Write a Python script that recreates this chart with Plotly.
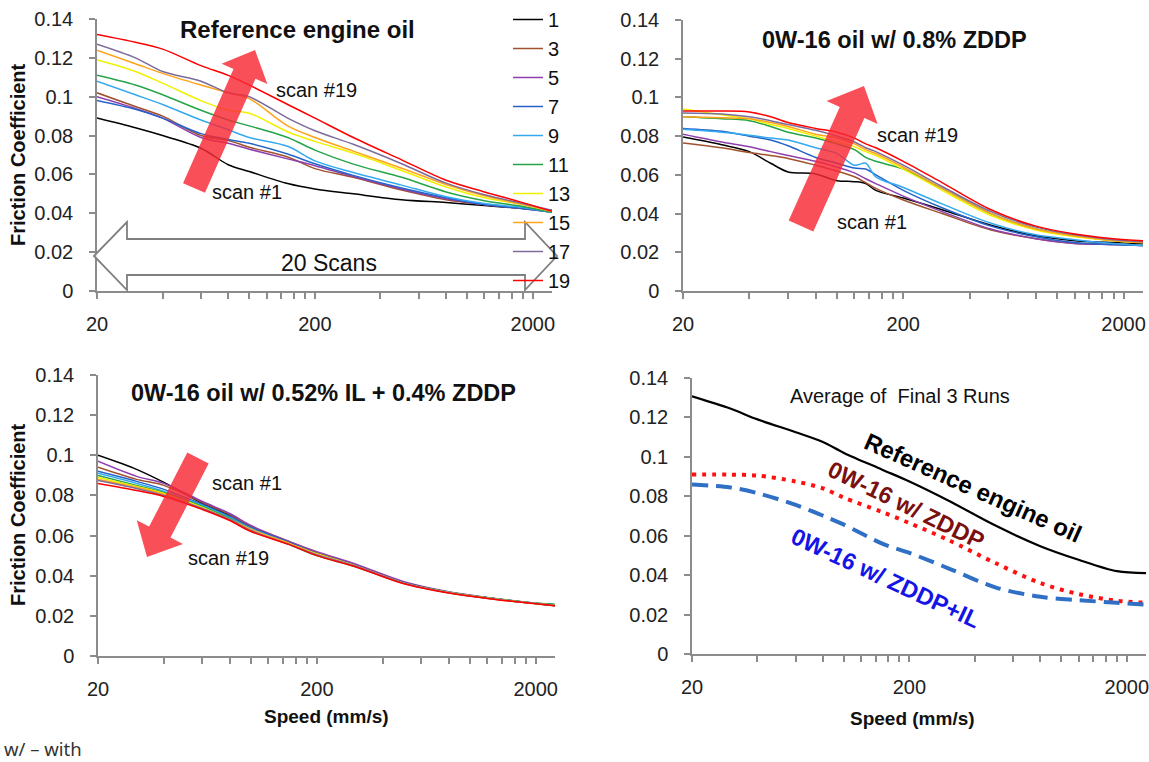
import math
import plotly.graph_objects as go

W, H = 1149, 762

# ---------------- data ----------------
scan_names = ["1", "3", "5", "7", "9", "11", "13", "15", "17", "19"]
scan_colors = ["#000000", "#a0522d", "#8e3fae", "#2563c9", "#35a9ef",
               "#25a449", "#f0f000", "#ffa31a", "#7d6b9b", "#ff0000"]

# Panel 1: Reference engine oil
speed_ref = [20, 30, 40, 60, 80, 100, 150, 200, 300, 500, 800, 1200, 1800, 2450]
ref_scan1 = [0.089, 0.084, 0.080, 0.0735, 0.065, 0.0615, 0.0553, 0.0525, 0.050, 0.047, 0.0455, 0.044, 0.0425, 0.0415]
ref_scan3 = [0.102, 0.095, 0.090, 0.080, 0.0775, 0.074, 0.069, 0.063, 0.0585, 0.052, 0.047, 0.0445, 0.0425, 0.041]
ref_scan5 = [0.100, 0.094, 0.089, 0.079, 0.076, 0.073, 0.068, 0.0645, 0.059, 0.0525, 0.0475, 0.0445, 0.0425, 0.0405]
ref_scan7 = [0.098, 0.0935, 0.089, 0.081, 0.078, 0.076, 0.0705, 0.0655, 0.0595, 0.053, 0.048, 0.0445, 0.0425, 0.0405]
ref_scan9 = [0.108, 0.101, 0.096, 0.088, 0.083, 0.079, 0.0745, 0.067, 0.061, 0.0545, 0.0485, 0.045, 0.043, 0.0405]
ref_scan11 = [0.111, 0.106, 0.101, 0.093, 0.088, 0.085, 0.079, 0.0725, 0.0653, 0.0585, 0.051, 0.0465, 0.0435, 0.0405]
ref_scan13 = [0.119, 0.113, 0.107, 0.098, 0.093, 0.0915, 0.082, 0.077, 0.071, 0.062, 0.0535, 0.048, 0.0445, 0.041]
ref_scan15 = [0.124, 0.117, 0.112, 0.106, 0.102, 0.099, 0.085, 0.079, 0.072, 0.0632, 0.0548, 0.049, 0.0445, 0.041]
ref_scan17 = [0.127, 0.120, 0.113, 0.108, 0.102, 0.100, 0.089, 0.0825, 0.0755, 0.0655, 0.0555, 0.0495, 0.045, 0.0415]
ref_scan19 = [0.132, 0.128, 0.1245, 0.116, 0.111, 0.106, 0.096, 0.089, 0.079, 0.0675, 0.057, 0.051, 0.0455, 0.041]

# Panel 2: 0W-16 oil w/ 0.8% ZDDP
speed_zddp = [20, 30, 40, 50, 60, 80, 100, 120, 135, 150, 200, 300, 500, 800, 1200, 1800, 2450]
zddp_scan1 = [0.0795, 0.0755, 0.072, 0.066, 0.0615, 0.0605, 0.057, 0.0565, 0.0555, 0.052, 0.048, 0.042, 0.034, 0.0285, 0.026, 0.025, 0.0245]
zddp_scan3 = [0.0765, 0.074, 0.0715, 0.070, 0.0685, 0.065, 0.062, 0.059, 0.056, 0.053, 0.047, 0.040, 0.0315, 0.027, 0.0245, 0.024, 0.0235]
zddp_scan5 = [0.081, 0.077, 0.0745, 0.072, 0.070, 0.067, 0.064, 0.061, 0.058, 0.0555, 0.049, 0.041, 0.032, 0.027, 0.0245, 0.024, 0.0235]
zddp_scan7 = [0.084, 0.0825, 0.080, 0.078, 0.075, 0.069, 0.066, 0.0635, 0.063, 0.060, 0.052, 0.043, 0.0335, 0.028, 0.025, 0.024, 0.0235]
zddp_scan9 = [0.0835, 0.082, 0.0805, 0.079, 0.078, 0.074, 0.071, 0.065, 0.066, 0.059, 0.0535, 0.045, 0.035, 0.029, 0.0265, 0.0245, 0.0235]
zddp_scan11 = [0.090, 0.089, 0.088, 0.085, 0.082, 0.079, 0.076, 0.073, 0.069, 0.067, 0.063, 0.053, 0.040, 0.032, 0.0285, 0.026, 0.025]
zddp_scan13 = [0.094, 0.091, 0.089, 0.086, 0.084, 0.080, 0.077, 0.0745, 0.072, 0.070, 0.063, 0.052, 0.039, 0.0315, 0.028, 0.026, 0.025]
zddp_scan15 = [0.090, 0.0895, 0.089, 0.087, 0.085, 0.081, 0.079, 0.076, 0.073, 0.071, 0.064, 0.053, 0.040, 0.032, 0.0285, 0.026, 0.025]
zddp_scan17 = [0.092, 0.0915, 0.090, 0.088, 0.086, 0.083, 0.080, 0.077, 0.074, 0.072, 0.065, 0.054, 0.041, 0.033, 0.029, 0.0265, 0.0255]
zddp_scan19 = [0.093, 0.093, 0.0925, 0.090, 0.087, 0.084, 0.082, 0.079, 0.076, 0.074, 0.067, 0.056, 0.042, 0.0335, 0.0295, 0.027, 0.026]

# Panel 3: 0W-16 oil w/ 0.52% IL + 0.4% ZDDP
speed_il = [20, 30, 40, 60, 80, 100, 150, 200, 300, 500, 800, 1200, 1800, 2450]
il_scan1 = [0.100, 0.093, 0.0865, 0.076, 0.070, 0.064, 0.0565, 0.051, 0.045, 0.0365, 0.0316, 0.029, 0.0266, 0.025]
il_scan3 = [0.094, 0.088, 0.085, 0.0765, 0.0705, 0.0645, 0.057, 0.0515, 0.0455, 0.0368, 0.0318, 0.029, 0.0267, 0.0253]
il_scan5 = [0.097, 0.0895, 0.086, 0.077, 0.071, 0.065, 0.057, 0.052, 0.0458, 0.037, 0.032, 0.0292, 0.0268, 0.0255]
il_scan7 = [0.092, 0.087, 0.083, 0.0755, 0.0695, 0.064, 0.0565, 0.051, 0.045, 0.0365, 0.0317, 0.029, 0.0268, 0.0255]
il_scan9 = [0.091, 0.086, 0.082, 0.075, 0.069, 0.0635, 0.056, 0.0505, 0.0448, 0.0363, 0.0316, 0.029, 0.0267, 0.0255]
il_scan11 = [0.090, 0.085, 0.0815, 0.0745, 0.0685, 0.063, 0.0555, 0.050, 0.0445, 0.0362, 0.0318, 0.029, 0.0268, 0.0258]
il_scan13 = [0.089, 0.0845, 0.081, 0.074, 0.068, 0.063, 0.056, 0.051, 0.045, 0.0363, 0.0316, 0.0289, 0.0267, 0.0253]
il_scan15 = [0.088, 0.084, 0.0805, 0.0735, 0.068, 0.063, 0.056, 0.0505, 0.0448, 0.0362, 0.0315, 0.0288, 0.0266, 0.0252]
il_scan17 = [0.0875, 0.0835, 0.080, 0.0735, 0.068, 0.0625, 0.0555, 0.0505, 0.0448, 0.0362, 0.0315, 0.0288, 0.0266, 0.0252]
il_scan19 = [0.086, 0.0825, 0.0795, 0.073, 0.0675, 0.062, 0.0555, 0.050, 0.0445, 0.036, 0.0314, 0.0287, 0.0265, 0.025]

# Panel 4: Average of final 3 runs
speed_avg = [20, 30, 40, 60, 80, 100, 150, 200, 300, 500, 800, 1200, 1800, 2450]
avg_reference = [0.1307, 0.1245, 0.119, 0.1125, 0.1075, 0.102, 0.0935, 0.0875, 0.078, 0.065, 0.0547, 0.0478, 0.042, 0.041]
avg_zddp = [0.091, 0.091, 0.0905, 0.0875, 0.084, 0.0793, 0.072, 0.0664, 0.058, 0.046, 0.036, 0.0304, 0.027, 0.026]
avg_zddp_il = [0.086, 0.0845, 0.0816, 0.0756, 0.0702, 0.0656, 0.056, 0.0513, 0.0436, 0.0337, 0.029, 0.0273, 0.026, 0.025]

x_tickvals = [20, 40, 60, 80, 100, 120, 140, 160, 180,
              200, 400, 600, 800, 1000, 1200, 1400, 1600, 1800, 2000]
x_ticktext = [str(v) if v in (20, 200, 2000) else "" for v in x_tickvals]
y_tickvals = [0, 0.02, 0.04, 0.06, 0.08, 0.10, 0.12, 0.14]
y_ticktext = ["0", "0.02", "0.04", "0.06", "0.08", "0.1", "0.12", "0.14"]

# ---------------- layout helpers ----------------
BASEFONT = "Liberation Sans, Arial, sans-serif"
AXCOL = "#8c8c8c"

# plot boxes in pixels: (left, right, top, bottom)
boxes = [(97, 552, 19, 291), (683, 1143, 20, 291), (98, 555, 375, 656), (692, 1146, 378, 654)]


def px(x):
    return x / W


def py(y):
    return 1 - y / H


fig = go.Figure()

ref_sets = [ref_scan1, ref_scan3, ref_scan5, ref_scan7, ref_scan9,
            ref_scan11, ref_scan13, ref_scan15, ref_scan17, ref_scan19]
zddp_sets = [zddp_scan1, zddp_scan3, zddp_scan5, zddp_scan7, zddp_scan9,
             zddp_scan11, zddp_scan13, zddp_scan15, zddp_scan17, zddp_scan19]
il_sets = [il_scan1, il_scan3, il_scan5, il_scan7, il_scan9,
           il_scan11, il_scan13, il_scan15, il_scan17, il_scan19]

for panel, (xs, sets) in enumerate([(speed_ref, ref_sets), (speed_zddp, zddp_sets), (speed_il, il_sets)]):
    sfx = "" if panel == 0 else str(panel + 1)
    for i, ys in enumerate(sets):
        fig.add_trace(go.Scatter(
            x=xs, y=ys, mode="lines", name=scan_names[i],
            legendgroup=scan_names[i], showlegend=(panel == 0),
            line=dict(color=scan_colors[i], width=1.5, shape="spline", smoothing=0.9),
            xaxis="x" + sfx, yaxis="y" + sfx, hoverinfo="skip"))

fig.add_trace(go.Scatter(x=speed_avg, y=avg_reference, mode="lines", showlegend=False,
                         line=dict(color="#000000", width=2.2, shape="spline", smoothing=0.9),
                         xaxis="x4", yaxis="y4"))
fig.add_trace(go.Scatter(x=speed_avg, y=avg_zddp, mode="lines", showlegend=False,
                         line=dict(color="#ff1010", width=4, dash="4px,6px", shape="spline", smoothing=0.9),
                         xaxis="x4", yaxis="y4"))
fig.add_trace(go.Scatter(x=speed_avg, y=avg_zddp_il, mode="lines", showlegend=False,
                         line=dict(color="#2f6fc4", width=4, dash="16px,8px", shape="spline", smoothing=0.9),
                         xaxis="x4", yaxis="y4"))

layout = dict(
    template="none",
    width=W, height=H, margin=dict(l=0, r=0, t=0, b=0, pad=0),
    paper_bgcolor="white", plot_bgcolor="rgba(0,0,0,0)",
    font=dict(family=BASEFONT, color="#111"),
    legend=dict(x=px(508), y=1.0, xanchor="left", yanchor="top",
                bgcolor="rgba(0,0,0,0)", borderwidth=0,
                font=dict(family=BASEFONT, size=20, color="#111"),
                tracegroupgap=0, itemclick=False),
)

for k, (l, r, t, b) in enumerate(boxes):
    sfx = "" if k == 0 else str(k + 1)
    layout["xaxis" + sfx] = dict(
        domain=[px(l), px(r)], anchor="y" + sfx, type="log", automargin=False,
        range=[math.log10(20), math.log10(2450)],
        tickmode="array", tickvals=x_tickvals, ticktext=x_ticktext,
        ticks="outside", ticklen=6, tickwidth=1.5, tickcolor=AXCOL,
        showline=True, linecolor=AXCOL, linewidth=1.5,
        showgrid=False, zeroline=False, ticklabelstandoff=8,
        ticklabeloverflow="allow",
        tickfont=dict(family=BASEFONT, size=20, color="#222"))
    layout["yaxis" + sfx] = dict(
        domain=[py(b), py(t)], anchor="x" + sfx, automargin=False,
        range=[0, 0.14], tickmode="array", tickvals=y_tickvals, ticktext=y_ticktext,
        ticks="outside", ticklen=6, tickwidth=1.5, tickcolor=AXCOL,
        showline=True, linecolor=AXCOL, linewidth=1.5,
        showgrid=False, zeroline=False, ticklabelstandoff=12,
        ticklabeloverflow="allow",
        tickfont=dict(family=BASEFONT, size=20, color="#222"))

fig.update_layout(**layout)


# ---------------- shapes ----------------
def arrow_path(tail, tip, shaft_hw, head_hw, head_len):
    tx, ty = tail
    hx, hy = tip
    dx, dy = hx - tx, hy - ty
    L = math.hypot(dx, dy)
    ux, uy = dx / L, dy / L
    nx, ny = -uy, ux
    bx, by = hx - ux * head_len, hy - uy * head_len
    pts = [(tx + nx * shaft_hw, ty + ny * shaft_hw), (bx + nx * shaft_hw, by + ny * shaft_hw),
           (bx + nx * head_hw, by + ny * head_hw), (hx, hy),
           (bx - nx * head_hw, by - ny * head_hw), (bx - nx * shaft_hw, by - ny * shaft_hw),
           (tx - nx * shaft_hw, ty - ny * shaft_hw)]
    return "M " + " L ".join(f"{px(x):.5f},{py(y):.5f}" for x, y in pts) + " Z"


def poly_path(pts):
    return "M " + " L ".join(f"{px(x):.5f},{py(y):.5f}" for x, y in pts) + " Z"


shapes = []
RED = "rgba(248,40,52,0.82)"
for tail, tip, sh, hh, hl in [((194, 188), (255, 50), 12, 25, 26),
                              ((801, 226), (864, 86), 13.5, 28, 29),
                              ((198, 458), (147, 557), 12, 26, 28)]:
    shapes.append(dict(type="path", path=arrow_path(tail, tip, sh, hh, hl), xref="paper", yref="paper",
                       fillcolor=RED, line=dict(width=0), layer="above"))

double_arrow = [(94, 256), (127, 222), (127, 239), (525, 239), (525, 222), (557, 256),
                (525, 290), (525, 275), (127, 275), (127, 290)]
shapes.append(dict(type="path", path=poly_path(double_arrow), xref="paper", yref="paper",
                   fillcolor="rgba(255,255,255,0.8)", line=dict(color="#7f7f7f", width=1.8), layer="above"))
fig.update_layout(shapes=shapes)


# ---------------- annotations ----------------
def note(text, x, y, size, bold=False, color="#111", angle=0, family=BASEFONT):
    t = f"<b>{text}</b>" if bold else text
    fig.add_annotation(text=t, x=px(x), y=py(y), xref="paper", yref="paper",
                       xanchor="center", yanchor="middle", showarrow=False, textangle=angle,
                       font=dict(family=family, size=size, color=color))


note("Reference engine oil", 297, 29, 24, bold=True)
note("0W-16 oil w/ 0.8% ZDDP", 894, 40, 23.5, bold=True)
note("0W-16 oil w/ 0.52% IL + 0.4% ZDDP", 323, 393, 23.5, bold=True)
note("Average of  Final 3 Runs", 900, 396, 20)

note("scan #19", 316, 90, 20)
note("scan #1", 247, 192, 20)
note("scan #19", 917, 135, 20)
note("scan #1", 872, 222, 20)
note("scan #1", 247, 483, 20)
note("scan #19", 229, 558, 20)
note("20 Scans", 329, 263, 23)

note("Friction Coefficient", 18, 155, 20, bold=True, angle=-90)
note("Friction Coefficient", 18, 515, 20, bold=True, angle=-90)
note("Speed (mm/s)", 326, 716, 19, bold=True)
note("Speed (mm/s)", 912, 718, 19, bold=True)

note("Reference engine oil", 973, 487, 24, bold=True, color="#000", angle=24)
note("0W-16 w/ ZDDP", 906, 505, 23.5, bold=True, color="#7a1010", angle=26)
note("0W-16 w/ ZDDP+IL", 885, 578, 23.5, bold=True, color="#1414e6", angle=25)

fig.add_annotation(text="w/ – with", x=px(2), y=py(748), xref="paper", yref="paper",
                   xanchor="left", yanchor="middle", showarrow=False,
                   font=dict(family="Noto Sans, Open Sans, sans-serif", size=18.5, color="#333"))

fig.write_html("out.html")
